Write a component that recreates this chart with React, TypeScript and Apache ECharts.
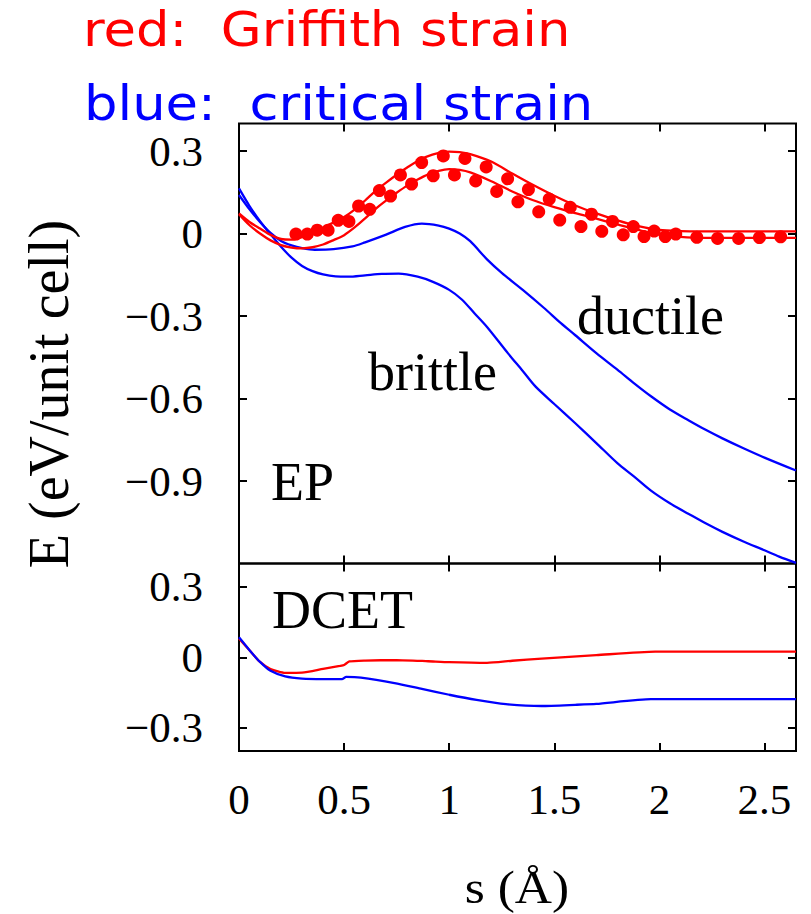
import { useEffect, useRef } from "react";
import * as echarts from "echarts";

// ---------- data (s in Å, E in eV/unit cell) ----------
const sTicks = [0.5, 1, 1.5, 2, 2.5];
const sLabels = [0, 0.5, 1, 1.5, 2, 2.5];
const epTicks = [-0.9, -0.6, -0.3, 0, 0.3];
const dcetTicks = [-0.3, 0, 0.3];

// EP: Griffith strain (red) lines
const epRedHigh: number[][] = [
  [0, 0.073], [0.05, 0.042], [0.1, 0.018], [0.15, -0.005], [0.2, -0.02], [0.25, -0.022],
  [0.3, -0.013], [0.35, 0.004], [0.4, 0.022], [0.45, 0.04], [0.5, 0.06], [0.55, 0.087],
  [0.6, 0.12], [0.65, 0.155], [0.7, 0.185], [0.76, 0.219], [0.8, 0.24], [0.865, 0.27],
  [0.92, 0.287], [0.97, 0.296], [1.0, 0.298], [1.05, 0.296], [1.1, 0.289], [1.2, 0.262],
  [1.3, 0.218], [1.4, 0.176], [1.5, 0.137], [1.6, 0.102], [1.7, 0.073], [1.8, 0.048],
  [1.9, 0.027], [2.0, 0.013], [2.1, 0.009], [2.2, 0.008], [2.65, 0.008],
];
const epRedLow: number[][] = [
  [0, 0.07], [0.05, 0.03], [0.1, 0.0], [0.15, -0.025], [0.2, -0.042], [0.25, -0.051],
  [0.3, -0.054], [0.35, -0.05], [0.4, -0.04], [0.45, -0.024], [0.5, -0.006], [0.55, 0.022],
  [0.6, 0.055], [0.65, 0.09], [0.7, 0.12], [0.75, 0.148], [0.8, 0.174], [0.85, 0.196],
  [0.9, 0.215], [0.95, 0.228], [1.0, 0.234], [1.05, 0.231], [1.1, 0.222], [1.2, 0.19],
  [1.3, 0.153], [1.4, 0.121], [1.5, 0.096], [1.6, 0.074], [1.7, 0.054], [1.8, 0.033],
  [1.9, 0.013], [2.0, -0.004], [2.1, -0.012], [2.2, -0.016], [2.65, -0.016],
];
// EP: Griffith strain (red) dots
const epDotsHigh: number[][] = [
  [0.271, -0.002], [0.372, 0.012], [0.472, 0.048], [0.569, 0.1], [0.668, 0.156],
  [0.768, 0.213], [0.869, 0.258], [0.972, 0.282], [1.075, 0.273], [1.176, 0.242],
  [1.278, 0.199], [1.377, 0.16], [1.476, 0.125], [1.576, 0.095], [1.677, 0.07],
  [1.777, 0.044], [1.876, 0.025], [1.975, 0.009], [2.078, -0.002], [2.178, -0.014],
  [2.277, -0.018], [2.377, -0.018], [2.476, -0.015], [2.577, -0.012],
];
const epDotsLow: number[][] = [
  [0.325, -0.002], [0.424, 0.012], [0.523, 0.044], [0.622, 0.088], [0.721, 0.136],
  [0.821, 0.18], [0.924, 0.21], [1.025, 0.213], [1.126, 0.191], [1.226, 0.153],
  [1.327, 0.115], [1.426, 0.079], [1.526, 0.049], [1.627, 0.025], [1.726, 0.008],
  [1.828, -0.005], [1.927, -0.011], [2.028, -0.011],
];
// EP: critical strain (blue) lines
const epBlueDuctile: number[][] = [
  [0, 0.14], [0.05, 0.088], [0.1, 0.042], [0.15, 0.002], [0.2, -0.027], [0.25, -0.043],
  [0.3, -0.053], [0.36, -0.059], [0.45, -0.057], [0.54, -0.047], [0.6, -0.032],
  [0.7, -0.004], [0.79, 0.024], [0.87, 0.036], [0.95, 0.029], [1.0, 0.018], [1.05, 0.0],
  [1.1, -0.028], [1.18, -0.094], [1.25, -0.143], [1.35, -0.205], [1.45, -0.27],
  [1.53, -0.325], [1.6, -0.37], [1.7, -0.435], [1.8, -0.495], [1.88, -0.545],
  [1.96, -0.592], [2.05, -0.64], [2.14, -0.68], [2.22, -0.714], [2.3, -0.745],
  [2.4, -0.781], [2.5, -0.815], [2.65, -0.862],
];
const epBlueBrittle: number[][] = [
  [0, 0.164], [0.05, 0.1], [0.1, 0.045], [0.15, -0.003], [0.2, -0.048], [0.25, -0.088],
  [0.3, -0.118], [0.35, -0.137], [0.4, -0.149], [0.46, -0.156], [0.52, -0.157],
  [0.6, -0.152], [0.68, -0.147], [0.76, -0.146], [0.85, -0.157], [0.92, -0.175],
  [1.0, -0.205], [1.06, -0.24], [1.12, -0.29], [1.18, -0.34], [1.28, -0.436],
  [1.35, -0.5], [1.41, -0.556], [1.5, -0.62], [1.6, -0.69], [1.7, -0.762], [1.8, -0.835],
  [1.88, -0.884], [1.96, -0.935], [2.05, -0.981], [2.14, -1.02], [2.22, -1.054],
  [2.3, -1.085], [2.4, -1.12], [2.5, -1.152], [2.57, -1.175], [2.65, -1.198],
];
// DCET
const dcetRed: number[][] = [
  [0, 0.08], [0.05, 0.03], [0.1, -0.02], [0.15, -0.05], [0.22, -0.067], [0.3, -0.066],
  [0.4, -0.05], [0.48, -0.037], [0.5, -0.033], [0.525, -0.018], [0.6, -0.014],
  [0.75, -0.012], [0.9, -0.017], [1.0, -0.021], [1.18, -0.024], [1.3, -0.015],
  [1.44, -0.006], [1.7, 0.009], [1.98, 0.024], [2.65, 0.024],
];
const dcetBlue: number[][] = [
  [0, 0.085], [0.05, 0.03], [0.1, -0.02], [0.15, -0.058], [0.22, -0.082], [0.3, -0.091],
  [0.4, -0.093], [0.49, -0.093], [0.51, -0.084], [0.58, -0.087], [0.74, -0.11],
  [0.87, -0.135], [1.0, -0.16], [1.13, -0.182], [1.27, -0.2], [1.44, -0.208],
  [1.6, -0.203], [1.7, -0.199], [1.96, -0.179], [2.65, -0.179],
];

const RED = "#ff0000";
const BLUE = "#0000ff";
const SERIF = "Liberation Serif";
const SANS = "DejaVu Sans";

const fmt = (v: number) => {
  const r = Math.round(v * 10) / 10;
  if (Math.abs(r) < 1e-9) return "0";
  return (r < 0 ? "\u2212" : "") + String(Math.abs(r));
};

const tick = (values: number[]) => ({
  show: true,
  inside: true,
  length: 8,
  customValues: values,
  lineStyle: { color: "#000", width: 2 },
});

const noLine = { show: false, onZero: false };

function xAxis(grid: number, pos: string, labels: boolean) {
  return {
    type: "value",
    gridIndex: grid,
    position: pos,
    min: 0,
    max: 2.65,
    axisLine: noLine,
    axisTick: tick(sTicks),
    splitLine: { show: false },
    axisLabel: labels
      ? {
          show: true,
          customValues: sLabels,
          formatter: fmt,
          fontFamily: SERIF,
          fontSize: 43,
          color: "#000",
          margin: 27,
        }
      : { show: false },
  };
}

function yAxis(grid: number, pos: string, min: number, max: number, ticks: number[], labels: boolean) {
  return {
    type: "value",
    gridIndex: grid,
    position: pos,
    min,
    max,
    axisLine: noLine,
    axisTick: tick(ticks),
    splitLine: { show: false },
    axisLabel: labels
      ? {
          show: true,
          customValues: ticks,
          formatter: fmt,
          fontFamily: SERIF,
          fontSize: 43,
          color: "#000",
          margin: 36,
        }
      : { show: false },
  };
}

function line(data: number[][], color: string, xi: number, yi: number, smooth = 0.3) {
  return {
    type: "line",
    xAxisIndex: xi,
    yAxisIndex: yi,
    data,
    showSymbol: false,
    symbol: "none",
    smooth,
    lineStyle: { color, width: 2.3 },
    itemStyle: { color },
    z: 3,
  };
}

function dots(data: number[][], color: string) {
  return {
    type: "scatter",
    xAxisIndex: 0,
    yAxisIndex: 0,
    data,
    symbol: "circle",
    symbolSize: 13,
    itemStyle: { color, opacity: 1 },
    z: 4,
  };
}

function label(text: string, x: number, y: number, size: number, color: string, family: string, extra: any = {}) {
  const { align, ...rest } = extra;
  return {
    type: "text",
    x,
    y,
    ...rest,
    style: {
      text,
      fill: color,
      fontFamily: family,
      fontSize: size,
      fontWeight: "normal",
      align: align || "left",
      verticalAlign: "middle",
    },
    z: 10,
  };
}

export default function App() {
  const ref = useRef<HTMLDivElement>(null);
  useEffect(() => {
    document.body.style.margin = "0";
    const chart = echarts.init(ref.current!, null, { renderer: "svg" });
    const option: any = {
      animation: false,
      backgroundColor: "#ffffff",
      grid: [
        { left: 239, top: 123.5, width: 557, height: 440, show: true, borderColor: "#000", borderWidth: 2, backgroundColor: "transparent" },
        { left: 239, top: 563.5, width: 557, height: 187.5, show: true, borderColor: "#000", borderWidth: 2, backgroundColor: "transparent" },
      ],
      xAxis: [
        xAxis(0, "bottom", false),
        xAxis(0, "top", false),
        xAxis(1, "bottom", true),
        xAxis(1, "top", false),
      ],
      yAxis: [
        yAxis(0, "left", -1.2, 0.4, epTicks, true),
        yAxis(0, "right", -1.2, 0.4, epTicks, false),
        yAxis(1, "left", -0.4, 0.4, dcetTicks, true),
        yAxis(1, "right", -0.4, 0.4, dcetTicks, false),
      ],
      series: [
        line(epBlueDuctile, BLUE, 0, 0),
        line(epBlueBrittle, BLUE, 0, 0),
        line(epRedHigh, RED, 0, 0),
        line(epRedLow, RED, 0, 0),
        dots(epDotsHigh, RED),
        dots(epDotsLow, RED),
        line(dcetRed, RED, 2, 2, 0.2),
        line(dcetBlue, BLUE, 2, 2, 0.2),
      ],
      graphic: [
        label("red:\u00a0 Griffith strain", 83, 29, 48, RED, SANS, { scaleX: 1.1 }),
        label("blue:\u00a0 critical strain", 84, 103.5, 48, BLUE, SANS, { scaleX: 1.1 }),
        label("E (eV/unit cell)", 49, 394, 56, "#000", SERIF, { rotation: Math.PI / 2, align: "center" }),
        label("s (\u00c5)", 517, 887, 46, "#000", SERIF, { align: "center", scaleX: 1.12 }),
        label("EP", 271, 482, 54, "#000", SERIF),
        label("brittle", 368, 372, 54, "#000", SERIF),
        label("ductile", 577, 316, 54, "#000", SERIF),
        label("DCET", 272, 610, 54, "#000", SERIF),
      ],
    };
    chart.setOption(option);
    return () => chart.dispose();
  }, []);
  return <div ref={ref} style={{ width: 811, height: 914 }} />;
}
